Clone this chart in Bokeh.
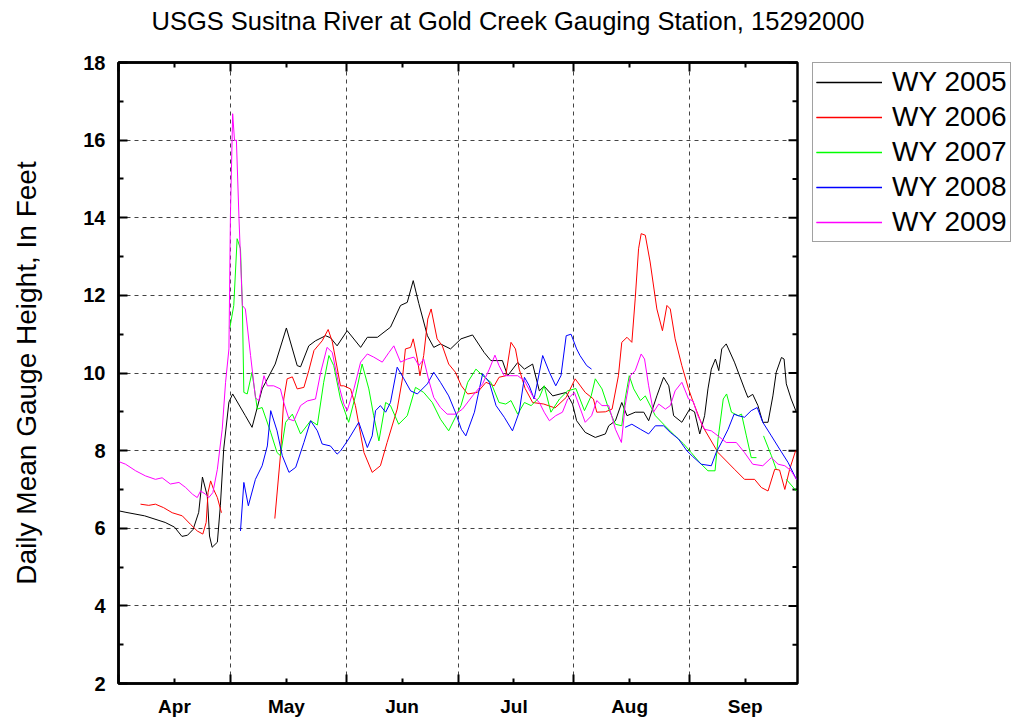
import numpy as np
from bokeh.plotting import figure
from bokeh.models import FixedTicker, LinearAxis, Range1d, Legend, LegendItem, ColumnDataSource
from bokeh.embed import file_html
from bokeh.resources import INLINE

nan = float("nan")

# ---- data (day 0 = April 1) ----
months = ["Apr", "May", "Jun", "Jul", "Aug", "Sep"]
month_starts = [0, 30, 61, 91, 122, 153, 183]
y_ticks = [2, 4, 6, 8, 10, 12, 14, 16, 18]
y_minor = [3, 5, 7, 9, 11, 13, 15, 17]

days_2005 = [0, 2, 7, 12.5, 15, 17, 18.5, 20, 21.5, 22.5, 23.8, 24.4, 25.1, 26.5, 27.3, 28.2, 29.6, 30.6, 34, 35.8,
             38.5, 42, 45, 47.9, 48.8, 51, 52.8, 55.5, 56.8, 58.6, 61.3, 64.9, 66.7, 69.4, 72.9, 75.6, 77.4, 79, 80.5,
             82.8, 84.5, 86.3, 89, 91.8, 94.9, 98, 99.8, 102.9, 104.3, 107, 108.8, 111, 112.8, 114.1, 116.4, 120,
             121.7, 122.8, 125.1, 127.8, 130.5, 131.4, 133.2, 134.9, 136.3, 138.5, 140.8, 142.1, 144.3, 146.1, 147.5,
             148.8, 151, 153.1, 154.4, 155.8, 157.1, 158, 158.9, 160, 160.9, 161.7, 162.9, 165.1, 167.8, 168.7, 170,
             171.4, 172.7, 174.1, 175.4, 176.3, 177.7, 178.4, 179, 180.3, 181.7]
gh_2005 = [6.45, 6.41, 6.32, 6.15, 6.03, 5.79, 5.82, 5.97, 6.41, 7.32, 6.83, 5.80, 5.51, 5.64, 6.58, 8.04, 9.25, 9.46,
           8.9, 8.6, 9.59, 10.23, 11.16, 10.19, 10.16, 10.7, 10.83, 10.96, 10.91, 10.7, 11.09, 10.66, 10.92, 10.92,
           11.18, 11.74, 11.82, 12.38, 11.79, 10.96, 10.66, 10.75, 10.62, 10.88, 10.98, 10.53, 10.32, 10.32, 9.93,
           10.27, 10.1, 10.23, 9.54, 9.66, 9.41, 9.5, 9.2, 8.77, 8.47, 8.34, 8.43, 8.64, 8.77, 9.24, 8.9, 8.99, 8.99,
           8.77, 9.41, 9.89, 9.67, 8.9, 8.73, 9.07, 9.0, 8.43, 8.9, 9.59, 10.1, 10.36, 10.06, 10.62, 10.75, 10.28,
           9.59, 9.37, 9.45, 9.16, 8.73, 8.73, 9.41, 10.02, 10.4, 10.36, 9.72, 9.33, 8.99]

days_2006 = [5.9, 8.1, 9.9, 12.1, 14.4, 17.1, 19.3, 21.1, 22.6, 23.5, 24, 24.7, 25.5, 26.5, 27.6, 34,
             41.9, 43.4, 44.3, 45.2, 46.6, 47.9, 49.7, 51, 52.4, 54.6, 56.2, 57.3, 59.5, 60.4, 62.2, 63.5, 65.8, 68,
             70.2, 72, 74.7, 76.1, 76.9, 78.3, 79, 80.1, 80.8, 81.8, 82.9, 83.8, 85.4, 86.8, 88.5, 90.3, 91.9, 93.6,
             96.2, 98.5, 100.7, 102, 103.8, 105.2, 106.4, 107.4, 109, 111, 114, 117, 120, 122.4, 125.1, 127.3, 128.2,
             130.5, 132.3, 134, 134.9, 136.3, 137.6, 138.5, 139.4, 140.1, 141.2, 142.5, 144.3, 145.8, 147, 147.9,
             149.2, 151, 152.8, 153.9, 156.5, 160.7, 165.1, 167.8, 170.5, 172.3, 174.1, 175.9, 177.2, 178.6, 179.9,
             181.5]
gh_2006 = [6.62, 6.59, 6.62, 6.53, 6.4, 6.32, 6.1, 5.93, 5.85, 6.15, 6.92, 7.22, 7.0, 6.79, 6.4, nan,
           6.25, 7.87, 9.33, 9.85, 9.9, 9.59, 9.63, 10.06, 10.58, 10.83, 11.12, 10.81, 9.67, 9.67, 9.59, 9.16, 7.95,
           7.44, 7.61, 8.21, 9.07, 9.85, 10.62, 10.66, 10.88, 10.36, 9.93, 10.45, 11.39, 11.65, 10.88, 10.7, 10.23,
           10.02, 9.67, 9.46, 9.5, 9.76, 9.67, 9.89, 9.93, 10.79, 10.62, 10.1, 9.6, 9.24, 9.2, 9.1, 9.37, 9.85, 9.5,
           9.33, 8.99, 9.0, 9.07, 9.93, 10.79, 10.92, 10.79, 11.91, 13.2, 13.59, 13.55, 12.86, 11.65, 11.09, 11.74,
           11.65, 10.88, 10.19, 9.59, 9.29, 8.64, 7.95, 7.52, 7.26, 7.26, 7.05, 6.96, 7.52, 7.5, 7.0, 7.52, 8.0]

days_2007 = [29.8, 30.9, 31.8, 32.7, 33.2, 33.6, 34.5, 35.8, 37.2, 38.5, 40.8, 42.5, 43.4, 44.8, 46.6, 48.8, 51.5,
             53.3, 55, 56.4, 57.7, 59.5, 61.7, 63.5, 65.3, 67.1, 68.4, 69.8, 71.6, 72.9, 75.1, 77.4, 79.6, 81.8, 84.1,
             86.3, 88.5, 90.3, 91.8, 93.6, 95.8, 98, 99.8, 102, 103.8, 105.2, 107, 108.8, 110.6, 112.8, 114.1, 115.9,
             118.2, 120.4, 122.6, 124.9, 126.7, 127.8, 129.6, 131.4, 133.2, 134.9, 135.8, 136.9, 138.1, 139.9, 141.2,
             143.9, 146.5, 149.2, 151.5, 153.5, 155.8, 158, 159.9, 160.7, 162.1, 163, 164.3, 166.1, 167, 168.3, 169.6,
             171, 172, 172.9, 175, 176.3, 177.5, 179, 181.7]
gh_2007 = [11.14, 11.74, 13.46, 13.2, 11.74, 9.5, 9.46, 10.02, 9.07, 9.11, 8.47, 7.95, 7.87, 8.73, 8.94, 8.43, 8.77,
           8.66, 9.76, 10.45, 10.19, 9.33, 8.73, 9.41, 10.23, 9.59, 8.9, 8.25, 9.24, 9.16, 8.68, 8.9, 9.63, 9.5, 9.24,
           8.81, 8.51, 8.86, 9.16, 9.76, 10.1, 9.9, 9.76, 9.24, 9.2, 9.29, 8.94, 9.24, 9.16, 9.37, 9.67, 8.99, 9.33,
           9.54, 9.6, 9.03, 9.41, 9.85, 9.59, 9.07, 8.68, 8.64, 9.33, 9.93, 9.59, 9.29, 9.41, 8.9, 8.64, 8.38, 8.17,
           7.95, 7.69, 7.48, 7.48, 8.3, 9.33, 9.46, 8.99, 8.9, 8.94, 8.38, 7.82, 7.82, nan, 8.38, 7.87, 7.52, nan,
           7.26, 6.96]

days_2008 = [32.7, 33.6, 34.8, 36.7, 38.5, 39.9, 40.8, 42.5, 43.9, 45.7, 47.5, 49.7, 51.5, 53.3, 54.6, 56.8, 58.6,
             59.5, 61.7, 64.4, 66.7, 68, 68.9, 70.2, 71.6, 72.9, 74.7, 76.5, 78.3, 80.1, 82.8, 84.5, 86.3, 88.5, 90.3,
             91.9, 93.1, 95.4, 97.6, 99.4, 101.2, 103.4, 105.6, 107.4, 108.8, 110.1, 111.4, 113.7, 115.5, 117.2,
             118.6, 120, 121.3, 122.8, 123.7, 125.5, 126.8, 131, 135.8, 137.6, 139.9, 142.1, 143.9, 146.1, 147.9,
             150.1, 152.4, 153.9, 156.2, 158.9, 160.2, 162.1, 163.4, 165, 166.1, 167.8, 169.6, 171.2, 172.7, 175,
             177.2, 179.5, 181.7]
gh_2008 = [5.93, 7.18, 6.58, 7.26, 7.61, 8.12, 9.03, 8.51, 7.87, 7.44, 7.57, 8.21, 8.77, 8.51, 8.17, 8.12, 7.91,
           7.99, 8.3, 8.73, 8.08, 8.38, 9.03, 9.16, 8.99, 9.24, 10.15, 9.85, 9.54, 9.46, 9.72, 10.02, 9.76, 9.41,
           8.99, 8.55, 8.38, 8.99, 9.98, 9.76, 9.16, 8.86, 8.51, 8.99, 9.89, 9.67, 9.33, 10.45, 10.02, 9.67, 9.93,
           10.96, 11.0, 10.62, 10.45, 10.19, 10.1, nan, 8.6, 8.68, 8.55, 8.43, 8.64, 8.64, 8.47, 8.3, 7.99, 7.85,
           7.65, 7.61, 7.95, 8.3, 8.55, 8.94, 8.9, 8.86, 9.03, 9.11, 8.73, 8.38, 8.04, 7.69, 7.26]

days_2009 = [0, 1.9, 4.6, 7.2, 9.9, 11.7, 13.9, 16.2, 18, 19.8, 21.1, 22, 23.3, 24.2, 25.3, 26.5, 27.8, 28.7, 29.6,
             30, 30.6, 31.1, 31.6, 32.3, 33.2, 34, 35.4, 36.7, 37.6, 39, 39.9, 41.6, 43.4, 44.3, 45.7, 47, 48.8, 50.6,
             52.8, 54.2, 55.9, 57.3, 59.1, 60.4, 61.3, 63.1, 64.9, 66.7, 68.4, 70.7, 72.5, 73.8, 75.6, 77.4, 79.2,
             80.5, 81.8, 83.2, 84.5, 86.3, 88.1, 90.3, 92.2, 94.9, 97.6, 99.4, 100.9, 102, 103.4, 105.2, 107, 108.8,
             111, 112.8, 114.1, 115.5, 117.2, 119, 120.4, 122.2, 125.1, 126.8, 128.2, 129.6, 131.4, 133.2, 134.8,
             135.8, 137.2, 138.5, 140.1, 141, 142.1, 143.4, 144.8, 146.6, 147.9, 149.2, 151, 152.8, 154, 155.3, 157.1,
             158.9, 160.7, 162.9, 165.6, 167.8, 170, 172.7, 175, 176.8, 178.6, 180.3, 181.7]
gh_2009 = [7.72, 7.65, 7.48, 7.35, 7.26, 7.3, 7.14, 7.18, 7.05, 6.88, 6.79, 6.96, 6.88, 6.79, 6.92, 7.52, 8.55, 9.76,
           10.62, 14.06, 16.68, 15.99, 16.0, 13.97, 11.74, 11.65, 10.45, 9.37, 9.28, 9.93, 9.67, 9.67, 9.59, 9.24,
           8.81, 8.77, 9.16, 9.28, 9.33, 10.02, 10.66, 10.53, 9.67, 9.2, 9.03, 9.59, 10.28, 10.49, 10.41, 10.28,
           10.53, 10.7, 10.28, 10.36, 10.41, 10.19, 10.36, 9.8, 9.37, 9.11, 8.94, 8.94, 9.07, 9.41, 9.72, 10.1,
           10.46, 10.19, 9.93, 9.93, 9.93, 9.8, 9.41, 9.24, 8.99, 8.77, 8.9, 8.99, 9.33, 9.5, 8.73, 8.9, 9.29, 9.16,
           9.16, 8.55, 8.21, 9.16, 9.93, 10.06, 10.49, 10.36, 9.67, 8.99, 9.2, 9.07, 9.16, 9.54, 9.76, 9.33, 9.28,
           8.9, 8.55, 8.51, 8.38, 8.21, 8.21, 7.95, 7.65, 7.61, 7.82, 7.65, 7.61, 7.48, 7.26]

series = [
    ("WY 2005", days_2005, gh_2005, "#000000"),
    ("WY 2006", days_2006, gh_2006, "#ff0000"),
    ("WY 2007", days_2007, gh_2007, "#00ff00"),
    ("WY 2008", days_2008, gh_2008, "#0000ff"),
    ("WY 2009", days_2009, gh_2009, "#ff00ff"),
]

FONT = "Liberation Sans"
mid_months = [s + 15 for s in month_starts[:-1]]
X_END = 182

p = figure(frame_width=679, frame_height=621,
           x_range=Range1d(0, X_END), y_range=Range1d(y_ticks[0], y_ticks[-1]),
           output_backend="svg", toolbar_location=None,
           min_border_left=118, min_border_top=0, min_border_bottom=36, min_border_right=215,
           x_axis_location=None, y_axis_location=None)
p.background_fill_color = "white"
p.border_fill_color = "white"
p.outline_line_color = "black"
p.outline_line_width = 2.5

p.title.text = "USGS Susitna River at Gold Creek Gauging Station, 15292000"
p.title.text_font = FONT
p.title.text_font_size = "25.5px"
p.title.text_font_style = "normal"
p.title.text_color = "black"
p.title.align = "left"
p.title.offset = 33
p.title.standoff = 8

xt = FixedTicker(ticks=mid_months, minor_ticks=month_starts)
yt = FixedTicker(ticks=y_ticks, minor_ticks=y_minor)


def style_axis(ax):
    ax.axis_line_width = 2.5
    ax.axis_line_color = "black"
    ax.major_tick_in = 9
    ax.major_tick_out = 0
    ax.minor_tick_in = 5
    ax.minor_tick_out = 0
    ax.major_tick_line_width = 2
    ax.minor_tick_line_width = 2
    ax.major_label_text_color = "black"


xb = LinearAxis(ticker=xt)
style_axis(xb)
xb.major_tick_in = 5
xb.minor_tick_in = 9
xb.major_label_overrides = {m: lab for m, lab in zip(mid_months, months)}
xb.major_label_text_font = FONT
xb.major_label_text_font_style = "bold"
xb.major_label_text_font_size = "19px"
xb.major_label_standoff = 12
p.add_layout(xb, "below")

# top axis: ticks only; its (blank) label only reserves the gap below the title
xa = LinearAxis(ticker=xt)
style_axis(xa)
xa.major_tick_in = 5
xa.minor_tick_in = 9
xa.major_label_overrides = {m: "" for m in mid_months}
xa.major_label_text_font_size = "0px"
xa.major_label_standoff = 0
xa.axis_label = "\u00a0"
xa.axis_label_text_font_size = "16px"
xa.axis_label_standoff = 4
p.add_layout(xa, "above")

yl = LinearAxis(ticker=yt)
style_axis(yl)
yl.major_label_text_font = FONT
yl.major_label_text_font_style = "bold"
yl.major_label_text_font_size = "20px"
yl.major_label_standoff = 13
yl.axis_label = "Daily Mean Gauge Height, In Feet"
yl.axis_label_text_font = FONT
yl.axis_label_text_font_style = "normal"
yl.axis_label_text_font_size = "28px"
yl.axis_label_text_color = "black"
yl.axis_label_standoff = 38
p.add_layout(yl, "left")

# right-hand inward ticks
p.ray(x=[X_END] * len(y_ticks), y=y_ticks, length=9, length_units="screen", angle=np.pi,
      line_color="black", line_width=2)
p.ray(x=[X_END] * len(y_minor), y=y_minor, length=5, length_units="screen", angle=np.pi,
      line_color="black", line_width=2)

p.xgrid.ticker = FixedTicker(ticks=month_starts[1:-1])
p.ygrid.ticker = FixedTicker(ticks=y_ticks[1:-1])
for g in (p.xgrid, p.ygrid):
    g.grid_line_color = "#444444"
    g.grid_line_dash = "4 4"
    g.grid_line_width = 1

items = []
for name, d, v, c in series:
    src = ColumnDataSource(dict(x=d, y=v))
    r = p.line("x", "y", source=src, line_color=c, line_width=1)
    # heavier legend swatch (a single empty point, draws nothing in the plot)
    sw = p.line(x=[nan], y=[nan], line_color=c, line_width=1.6)
    items.append(LegendItem(label=name, renderers=[r, sw]))

legend = Legend(items=items, location=(15, 621 - 180))
legend.label_text_font = FONT
legend.label_text_font_size = "28px"
legend.label_text_color = "black"
legend.glyph_width = 66
legend.glyph_height = 30
legend.label_height = 30
legend.label_standoff = 10
legend.spacing = 3
legend.padding = 3
legend.margin = 0
legend.border_line_color = "#444444"
legend.border_line_width = 1
legend.background_fill_alpha = 1
p.add_layout(legend, "right")

open("out.html", "w").write(file_html(p, INLINE))
